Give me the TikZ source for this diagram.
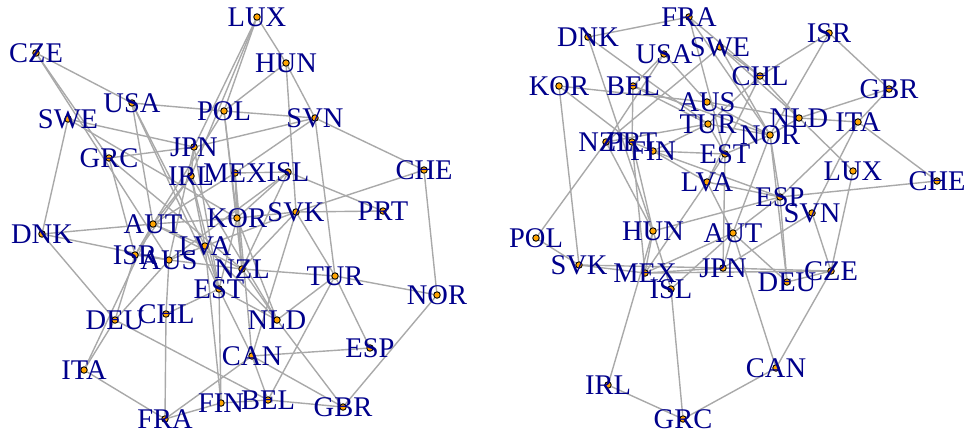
\documentclass[tikz,border=0pt]{standalone}
\usepackage{fontspec}
\setmainfont{Liberation Serif}
\usetikzlibrary{backgrounds}
\definecolor{edgegray}{HTML}{A9A9A9}
\definecolor{labblue}{HTML}{00008B}
\definecolor{dotfill}{HTML}{FFA500}
\tikzset{
  dot/.style={circle,draw=black,fill=dotfill,line width=0.9pt,minimum size=6.5pt,inner sep=0pt},
  lab/.style={text=labblue,font=\fontsize{28.5}{28.5}\selectfont,inner sep=0pt,text height=18.9pt,text depth=0pt,anchor=center},
  edge/.style={draw=edgegray,line width=1.4pt}
}
\begin{document}
\begin{tikzpicture}[x=1pt,y=-1pt]
\useasboundingbox (0,0) rectangle (965,432);
% ---------- left graph nodes ----------
\foreach \n/\x/\y in {CZE/36/53,USA/132/103,SWE/68/119,GRC/109/158,JPN/194/147,POL/224/111,IRL/191/176,MEX/235/173,
  LUX/257/17,HUN/286/63,SVN/315/118,ISL/288/172,CHE/424/170,SVK/296/212,PRT/383/211,KOR/237/218,
  DNK/42/234,AUT/153/224,ISR/135/255,AUS/169/260,LVA/205/246,EST/219/289,DEU/115/320,CHL/166/314,
  ITA/84/370,FRA/165/419,FIN/221/403,NZL/242/269,TUR/335/276,NOR/437/295,NLD/277/320,ESP/370/348,
  CAN/252/356,BEL/268/400,GBR/343/407}
  {\node[dot] (L\n) at (\x,\y) {};}
% ---------- right graph nodes ----------
\foreach \n/\x/\y in {FRA/689/17,DNK/588/37,USA/664/54,SWE/720/47,KOR/559/86,BEL/633/86,AUS/707/102,TUR/708/124,
  NZL/606/142,PRT/632/142,FIN/653/151,EST/725/154,LVA/707/182,ISR/829/33,CHL/760/76,GBR/889/89,
  NLD/799/118,ITA/858/122,NOR/770/135,LUX/853/171,CHE/937/181,ESP/780/197,SVN/812/213,
  HUN/653/231,AUT/733/233,JPN/723/268,MEX/645/273,CZE/831/271,POL/536/238,SVK/579/265,
  ISL/671/289,DEU/787/282,IRL/608/385,CAN/776/368,GRC/683/419}
  {\node[dot] (R\n) at (\x,\y) {};}
\begin{pgfonlayer}{background}
% ---------- left edges ----------
\foreach \a/\b in {CZE/USA,CZE/GRC,CZE/AUS,SWE/JPN,SWE/KOR,SWE/DNK,USA/POL,USA/AUT,USA/LVA,USA/EST,
  GRC/JPN,GRC/ISR,GRC/NZL,LUX/JPN,LUX/IRL,LUX/POL,LUX/HUN,HUN/SVN,HUN/POL,HUN/SVK,POL/SVN,SVN/JPN,
  SVN/MEX,SVN/CHE,SVN/TUR,POL/KOR,POL/AUT,POL/NZL,JPN/IRL,JPN/AUS,JPN/EST,IRL/AUT,IRL/ISR,IRL/LVA,
  IRL/NLD,IRL/EST,MEX/ISL,MEX/AUT,MEX/KOR,MEX/NZL,MEX/CAN,ISL/PRT,ISL/KOR,ISL/AUS,ISL/NZL,CHE/SVK,
  CHE/NOR,SVK/PRT,SVK/TUR,SVK/CAN,SVK/NZL,SVK/KOR,SVK/LVA,KOR/NLD,KOR/EST,KOR/AUT,NZL/TUR,NZL/NLD,
  NZL/AUT,TUR/NOR,TUR/NLD,TUR/ESP,TUR/BEL,NOR/GBR,NLD/GBR,NLD/EST,NLD/LVA,CAN/ESP,CAN/GBR,CAN/BEL,
  CAN/FRA,CAN/EST,FIN/BEL,BEL/GBR,FIN/EST,FIN/FRA,FIN/LVA,DNK/DEU,DNK/AUT,DNK/AUS,DEU/ITA,DEU/ISR,
  DEU/AUS,DEU/BEL,ITA/FRA,ITA/AUT,CHL/AUS,CHL/FRA,CHL/EST,ISR/AUS,ISR/AUT,AUT/LVA,AUS/LVA,AUS/NZL,
  LVA/EST}
  {\draw[edge] (L\a) -- (L\b);}
% ---------- right edges ----------
\foreach \a/\b in {DNK/FRA,DNK/HUN,DNK/TUR,FRA/EST,FRA/NOR,FRA/CHL,USA/BEL,USA/AUS,USA/NZL,SWE/NZL,
  SWE/CHL,SWE/NOR,SWE/NLD,KOR/AUS,KOR/PRT,KOR/SVK,BEL/PRT,BEL/TUR,BEL/NOR,CHL/ISR,CHL/NLD,CHL/TUR,
  CHL/LVA,AUS/NOR,AUS/NLD,TUR/EST,TUR/NOR,TUR/FIN,TUR/NZL,NZL/POL,NZL/HUN,PRT/FIN,PRT/HUN,PRT/MEX,
  FIN/EST,FIN/ESP,FIN/LVA,EST/LVA,EST/JPN,EST/NOR,LVA/ESP,LVA/AUT,LVA/MEX,NOR/NLD,NOR/ESP,NOR/DEU,
  NOR/AUT,NLD/ITA,NLD/GBR,NLD/LUX,ISR/GBR,ISR/NOR,GBR/ITA,ITA/CHE,ITA/ESP,ITA/SVN,LUX/CZE,ESP/CHE,
  ESP/AUT,ESP/DEU,ESP/HUN,SVN/CZE,SVN/JPN,AUT/JPN,AUT/DEU,AUT/CAN,AUT/MEX,HUN/MEX,HUN/ISL,HUN/IRL,
  POL/SVK,SVK/MEX,SVK/JPN,MEX/JPN,MEX/CZE,JPN/CZE,ISL/AUT,ISL/GRC,DEU/CZE,CZE/CAN,CAN/GRC,GRC/IRL}
  {\draw[edge] (R\a) -- (R\b);}
\end{pgfonlayer}
% ---------- labels ----------
\foreach \n in {CZE,USA,SWE,GRC,JPN,POL,IRL,MEX,LUX,HUN,SVN,ISL,CHE,SVK,PRT,KOR,DNK,AUT,ISR,AUS,LVA,EST,DEU,CHL,
  ITA,FRA,FIN,NZL,TUR,NOR,NLD,ESP,CAN,BEL,GBR}
  {\node[lab] (tL\n) at (L\n) {\n}; \node[lab] (tR\n) at (R\n) {\n};}
\end{tikzpicture}
\end{document}
